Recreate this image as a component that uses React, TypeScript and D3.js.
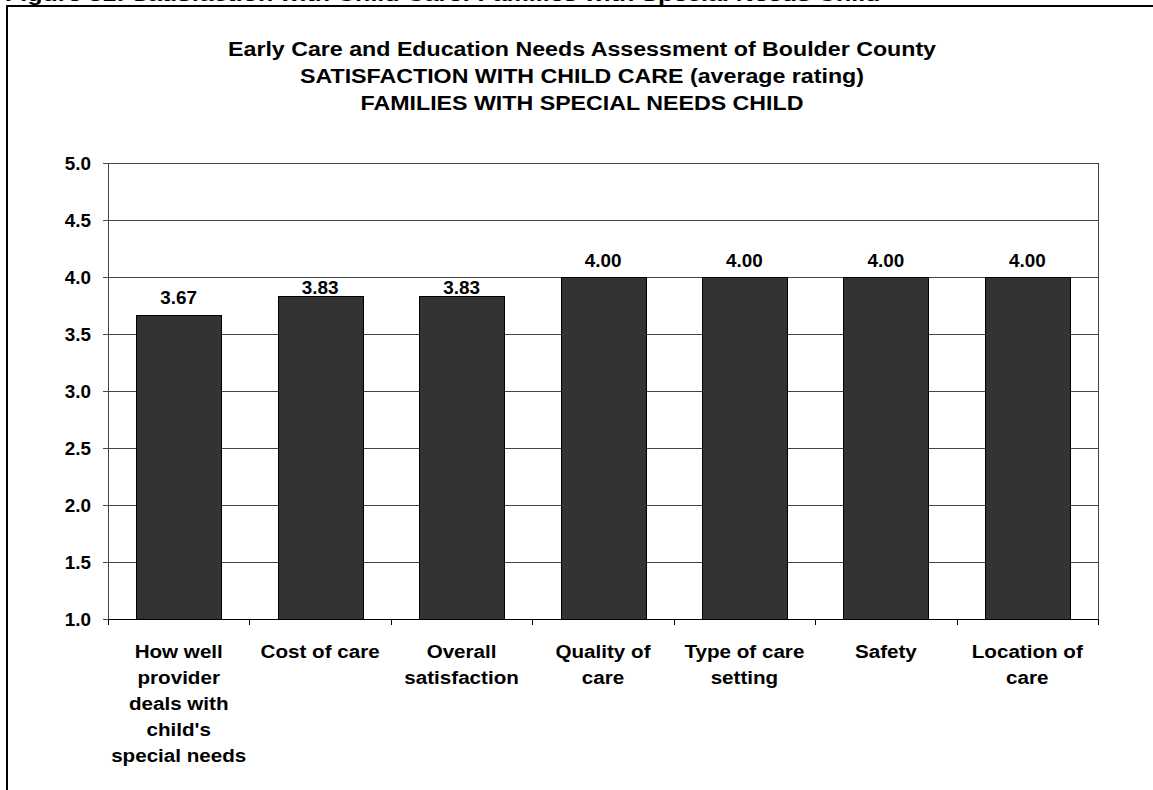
import React from "react";
import * as d3 from "d3";

const categories: string[][] = [
  ["How well", "provider", "deals with", "child's", "special needs"],
  ["Cost of care"],
  ["Overall", "satisfaction"],
  ["Quality of", "care"],
  ["Type of care", "setting"],
  ["Safety"],
  ["Location of", "care"],
];
const values: number[] = [3.67, 3.83, 3.83, 4.0, 4.0, 4.0, 4.0];
const yTicks: number[] = [1.0, 1.5, 2.0, 2.5, 3.0, 3.5, 4.0, 4.5, 5.0];
const titleLines: string[] = [
  "Early Care and Education Needs Assessment of Boulder County",
  "SATISFACTION WITH CHILD CARE (average rating)",
  "FAMILIES WITH SPECIAL NEEDS CHILD",
];
const caption = "Figure 31: Satisfaction with Child Care: Families with Special Needs Child";

const W = 1153;
const H = 790;
const plot = { left: 108, right: 1098, top: 163, bottom: 619 };
const FONT = "'Liberation Sans', Arial, sans-serif";

function T(props: {
  x: number;
  y: number;
  size: number;
  sx: number;
  anchor?: string;
  children: React.ReactNode;
}) {
  return (
    <text
      transform={`translate(${props.x},${props.y}) scale(${props.sx},1)`}
      textAnchor={props.anchor || "middle"}
      fontSize={props.size}
      fontWeight="bold"
      fill="#000"
    >
      {props.children}
    </text>
  );
}

export default function App() {
  const x = d3
    .scaleBand<number>()
    .domain(values.map((_, i) => i))
    .range([plot.left, plot.right])
    .paddingInner(0.4)
    .paddingOuter(0.2);
  const y = d3.scaleLinear().domain([1, 5]).range([plot.bottom, plot.top]);
  const step = x.step();
  const boundaries = d3.range(values.length + 1).map((i) => plot.left + i * step);

  return (
    <div style={{ position: "absolute", left: 0, top: 0 }}>
      <svg width={W} height={H} style={{ display: "block", fontFamily: FONT }}>
        <rect x={0} y={0} width={W} height={H} fill="#fff" />
        <T x={5} y={0.5} size={18} sx={1.39} anchor="start">
          {caption}
        </T>
        <rect x={7} y={6} width={W + 10} height={H + 10} fill="none" stroke="#000" strokeWidth={2} />
        {titleLines.map((t, i) => (
          <T key={i} x={582} y={56 + i * 27} size={19.5} sx={1.19}>
            {t}
          </T>
        ))}
        {/* gridlines */}
        {yTicks.map((t) => (
          <line
            key={t}
            x1={plot.left - 5}
            x2={plot.right}
            y1={Math.round(y(t)) + 0.5}
            y2={Math.round(y(t)) + 0.5}
            stroke="#444"
            strokeWidth={1}
          />
        ))}
        {yTicks.map((t) => (
          <T key={"l" + t} x={91} y={y(t) + 6.5} size={18} sx={1.05} anchor="end">
            {t.toFixed(1)}
          </T>
        ))}
        {/* plot border */}
        <line x1={plot.left + 0.5} x2={plot.left + 0.5} y1={plot.top} y2={plot.bottom} stroke="#444" />
        <line x1={plot.right + 0.5} x2={plot.right + 0.5} y1={plot.top} y2={plot.bottom} stroke="#444" />
        {/* bars */}
        {values.map((v, i) => (
          <rect
            key={i}
            x={Math.round(x(i)!) + 0.5}
            y={Math.round(y(v)) + 0.5}
            width={Math.round(x.bandwidth())}
            height={Math.round(y(1) - y(v))}
            fill="#333333"
            stroke="#000"
            strokeWidth={1}
          />
        ))}
        {/* x axis */}
        <line x1={plot.left} x2={plot.right + 1} y1={plot.bottom + 0.5} y2={plot.bottom + 0.5} stroke="#000" />
        {boundaries.map((b, i) => (
          <line
            key={i}
            x1={Math.round(b) + 0.5}
            x2={Math.round(b) + 0.5}
            y1={plot.bottom}
            y2={plot.bottom + 6}
            stroke="#000"
          />
        ))}
        {/* value labels */}
        {values.map((v, i) => {
          const top = y(v);
          const gridAbove = y(Math.ceil(v * 2 - 1e-9) / 2);
          let base = top - 10.5;
          if (base - 13 < gridAbove && top - gridAbove > 1) base = top - 2;
          return (
            <T key={i} x={x(i)! + x.bandwidth() / 2} y={base} size={18} sx={1.05}>
              {v.toFixed(2)}
            </T>
          );
        })}
        {/* category labels */}
        {categories.map((lines, i) =>
          lines.map((l, j) => (
            <T key={i + "-" + j} x={x(i)! + x.bandwidth() / 2} y={657.5 + j * 26} size={19} sx={1.085}>
              {l}
            </T>
          ))
        )}
      </svg>
    </div>
  );
}
